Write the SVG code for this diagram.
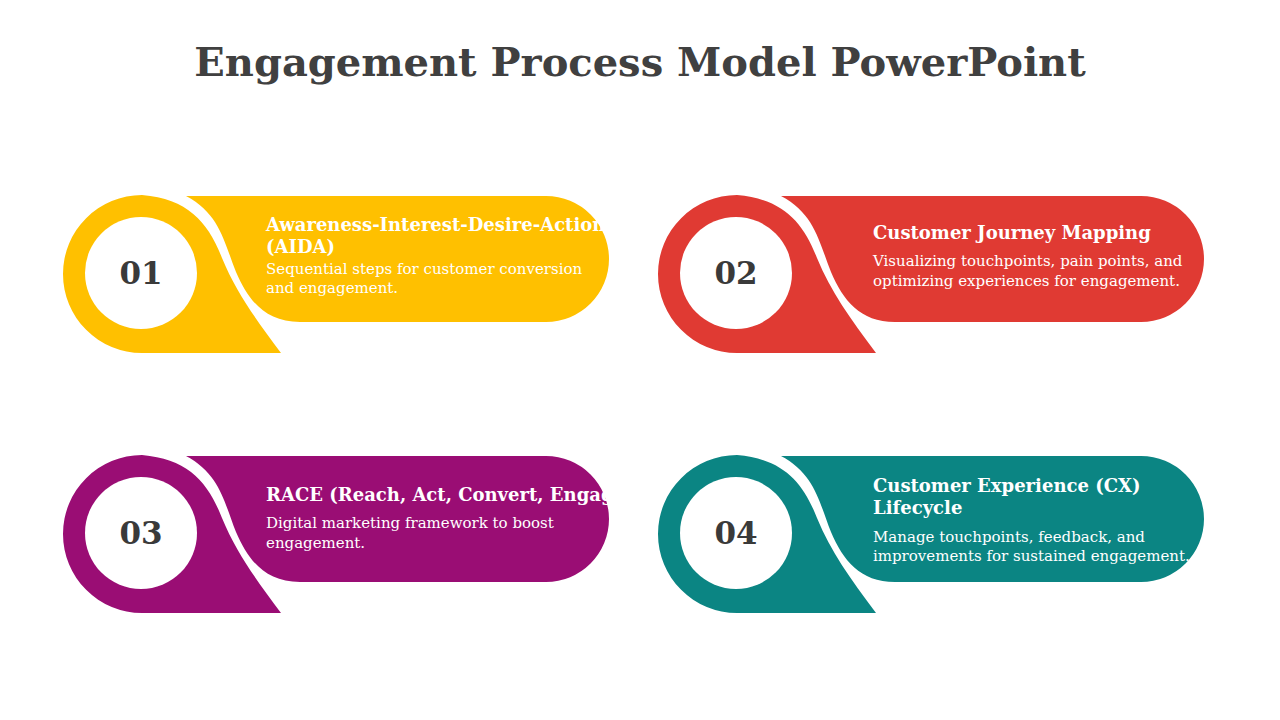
<svg xmlns="http://www.w3.org/2000/svg" width="1280" height="720" viewBox="0 0 1280 720">
<style>
.t{font-family:"DejaVu Serif","Liberation Serif",serif}
.title{font-size:40px;font-weight:bold;fill:#404040}
.num{font-size:31px;font-weight:bold;fill:#3a3a3a}
.h{font-size:18px;font-weight:bold;fill:#fff}
.d{font-size:15px;fill:#fff}
</style>
<defs>
<g id="card">
<path d="M142,195 A79,79 0 0 0 142,353 L281,353 C255,318 236,292 222,258 C208,222 188,199 142,195 Z"/>
<path d="M186,196 L546,196 A63,63 0 0 1 546,322 L300,322 C265,322 248,300 236,272 C224,242 220,214 186,196 Z"/>
<circle cx="141" cy="273" r="56" fill="#fff"/>
</g>
</defs>
<rect width="1280" height="720" fill="#fff"/>
<text class="t title" x="640" y="76" text-anchor="middle">Engagement Process Model PowerPoint</text>
<g id="node1"><use href="#card" fill="#FFC000"/>
<text class="t num" x="141" y="284" text-anchor="middle">01</text>
<text class="t h" x="266" y="231">Awareness-Interest-Desire-Action</text>
<text class="t h" x="266" y="253">(AIDA)</text>
<text class="t d" x="266" y="274">Sequential steps for customer conversion</text>
<text class="t d" x="266" y="293">and engagement.</text></g>
<g id="node2"><use href="#card" fill="#E03A33" x="595"/>
<text class="t num" x="736" y="284" text-anchor="middle">02</text>
<text class="t h" x="873" y="239">Customer Journey Mapping</text>
<text class="t d" x="873" y="266">Visualizing touchpoints, pain points, and</text>
<text class="t d" x="873" y="286">optimizing experiences for engagement.</text></g>
<g id="node3"><use href="#card" fill="#9A0D74" y="260"/>
<text class="t num" x="141" y="544" text-anchor="middle">03</text>
<text class="t h" x="266" y="501">RACE (Reach, Act, Convert, Engage)</text>
<text class="t d" x="266" y="528">Digital marketing framework to boost</text>
<text class="t d" x="266" y="548">engagement.</text></g>
<g id="node4"><use href="#card" fill="#0B8583" x="595" y="260"/>
<text class="t num" x="736" y="544" text-anchor="middle">04</text>
<text class="t h" x="873" y="492">Customer Experience (CX)</text>
<text class="t h" x="873" y="514">Lifecycle</text>
<text class="t d" x="873" y="542">Manage touchpoints, feedback, and</text>
<text class="t d" x="873" y="561">improvements for sustained engagement.</text></g>
<g id="connectors"/>
</svg>
